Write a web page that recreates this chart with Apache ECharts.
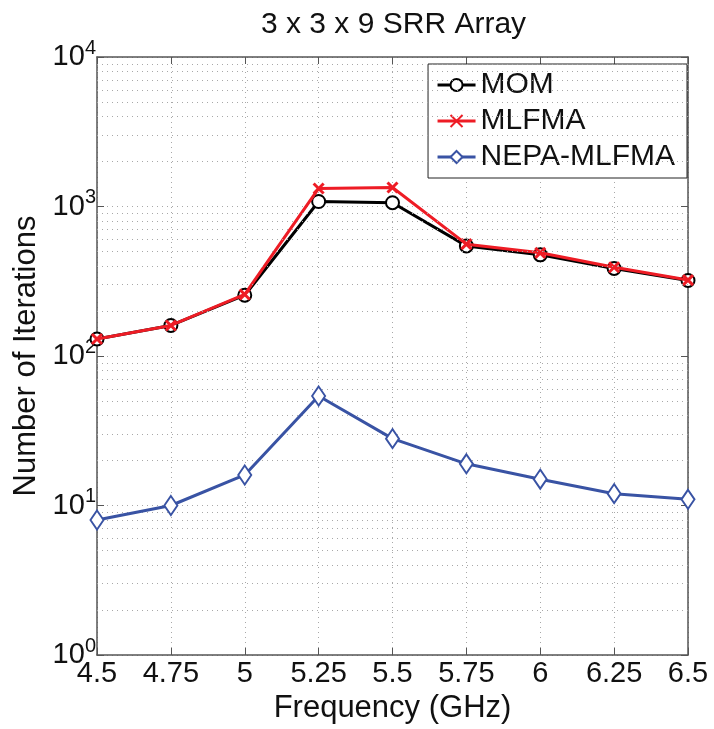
<!DOCTYPE html>
<html><head><meta charset="utf-8">
<script src="https://cdn.jsdelivr.net/npm/echarts@6/dist/echarts.min.js"></script>
<style>html,body{margin:0;padding:0;background:#fff}#c{width:714px;height:729px}</style>
</head><body><div id="c"></div>
<script>
const freqs = [4.5, 4.75, 5, 5.25, 5.5, 5.75, 6, 6.25, 6.5];
const mom   = [130, 160, 255, 1080, 1060, 545, 475, 385, 320];
const mlfma = [130, 160, 258, 1320, 1340, 560, 490, 392, 322];
const nepa  = [8, 10, 16, 54, 28, 19, 15, 12, 11];
const seriesNames = ['MOM', 'MLFMA', 'NEPA-MLFMA'];
const yMinor = [];
[1, 10, 100, 1000].forEach(d => { for (let k = 2; k <= 9; k++) yMinor.push(k * d); });

const FONT = 'Liberation Sans';
const gridCol = '#a8a8a8';
const pairs = arr => freqs.map((f, i) => [f, arr[i]]);

const chart = echarts.init(document.getElementById('c'), null, {renderer: 'canvas'});
chart.setOption({
  animation: false,
  backgroundColor: '#fff',
  textStyle: {fontFamily: FONT},
  title: {
    text: '3 x 3 x 9 SRR Array',
    left: 256, top: 5,
    textStyle: {fontFamily: FONT, fontSize: 30, fontWeight: 'normal', color: '#111'}
  },
  grid: {left: 97, right: 26, top: 57, bottom: 72},
  legend: {
    data: seriesNames,
    orient: 'vertical',
    right: 27, top: 64,
    backgroundColor: '#fff',
    borderColor: '#222', borderWidth: 1,
    padding: [6, 12, 6, 8],
    itemGap: 6,
    itemWidth: 38, itemHeight: 15,
    lineStyle: {width: 3},
    textStyle: {fontFamily: FONT, fontSize: 30, color: '#111'}
  },
  xAxis: [{
    type: 'value', min: 4.5, max: 6.5, interval: 0.25,
    name: 'Frequency (GHz)', nameLocation: 'middle', nameGap: 38,
    nameTextStyle: {fontFamily: FONT, fontSize: 31, color: '#111'},
    axisLine: {show: true, lineStyle: {color: '#555', width: 1.5}},
    axisTick: {show: true, inside: true, length: 7, lineStyle: {color: '#555'}},
    axisLabel: {fontFamily: FONT, fontSize: 29, color: '#111', margin: 4},
    splitLine: {show: true, lineStyle: {color: gridCol, type: [1, 4], width: 1}}
  }, {
    type: 'value', min: 4.5, max: 6.5, interval: 0.25, position: 'top',
    axisLine: {show: true, lineStyle: {color: '#555', width: 1.5}},
    axisTick: {show: true, inside: true, length: 7, lineStyle: {color: '#555'}},
    axisLabel: {show: false}, splitLine: {show: false}
  }],
  yAxis: [{
    type: 'log', logBase: 10, min: 1, max: 10000,
    name: 'Number of Iterations', nameLocation: 'middle', nameGap: 55,
    nameTextStyle: {fontFamily: FONT, fontSize: 31, color: '#111'},
    axisLine: {show: true, lineStyle: {color: '#555', width: 1.5}},
    axisTick: {show: true, inside: true, length: 7, lineStyle: {color: '#555'}},
    axisLabel: {
      margin: 1,
      formatter: v => '{b|10}{e|' + Math.round(Math.log10(v)) + '}',
      rich: {
        b: {fontFamily: FONT, fontSize: 29, color: '#111'},
        e: {fontFamily: FONT, fontSize: 20, color: '#111', verticalAlign: 'top', padding: [0, 0, 18, 0]}
      }
    },
    splitLine: {show: true, lineStyle: {color: gridCol, type: [1, 4], width: 1}}
  }, {
    type: 'log', logBase: 10, min: 1, max: 10000, position: 'right',
    axisLine: {show: true, lineStyle: {color: '#555', width: 1.5}},
    axisTick: {show: true, inside: true, length: 7, lineStyle: {color: '#555'}},
    axisLabel: {show: false}, splitLine: {show: false}
  }],
  series: [
    {
      name: 'minor-grid', type: 'line', data: [], silent: true,
      markLine: {
        silent: true, symbol: 'none', label: {show: false},
        lineStyle: {color: gridCol, type: [1, 4], width: 1},
        emphasis: {disabled: true},
        data: yMinor.map(v => ({yAxis: v}))
      }
    },
    {
      name: 'MOM', type: 'line', data: pairs(mom),
      lineStyle: {color: '#000', width: 3},
      itemStyle: {color: '#000', borderColor: '#000', borderWidth: 3},
      symbol: 'emptyCircle', symbolSize: 13,
      z: 3
    },
    {
      name: 'MLFMA', type: 'line', data: pairs(mlfma),
      lineStyle: {color: '#ee1c25', width: 3},
      itemStyle: {color: '#ee1c25', borderColor: '#ee1c25', borderWidth: 3},
      symbol: 'path://M0,0L10,10M10,0L0,10', symbolSize: 10,
      z: 4
    },
    {
      name: 'NEPA-MLFMA', type: 'line', data: pairs(nepa),
      lineStyle: {color: '#3953a4', width: 3},
      itemStyle: {color: '#3953a4', borderColor: '#3953a4', borderWidth: 3},
      symbol: 'emptyDiamond', symbolSize: [13, 19],
      z: 5
    }
  ]
});
</script></body></html>
